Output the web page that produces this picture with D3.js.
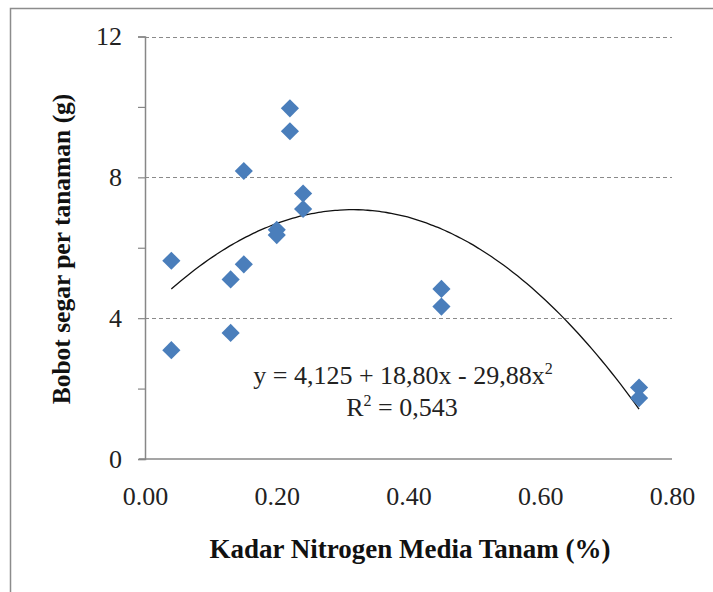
<!DOCTYPE html>
<html>
<head>
<meta charset="utf-8">
<script src="https://cdn.jsdelivr.net/npm/d3@7"></script>
<style>
  body { margin: 0; background: #fff; }
  svg { display: block; }
</style>
</head>
<body>
<svg id="chart"></svg>
<script>
// data
var nitrogen = [0.04, 0.04, 0.13, 0.13, 0.15, 0.15, 0.20, 0.20, 0.22, 0.22, 0.24, 0.24, 0.45, 0.45, 0.75, 0.75];
var bobot    = [5.63, 3.09, 5.10, 3.58, 8.18, 5.53, 6.51, 6.36, 9.96, 9.31, 7.54, 7.10, 4.83, 4.33, 2.03, 1.73];

var xTicks = [0, 0.2, 0.4, 0.6, 0.8];
var yTicks = [0, 2, 4, 6, 8, 10, 12];
var yLabels = [0, 4, 8, 12];
var yGrid = [4, 8, 12];

// polynomial trendline y = a + b x + c x^2, drawn over the data range
var trendCoef = [4.125, 18.80, -29.88];
var trendRange = [0.04, 0.75];
var eqText = ["y = 4,125 + 18,80x - 29,88x", "R", " = 0,543"];

var serif = "'Liberation Serif', 'Times New Roman', serif";
var width = 713, height = 592;
var svg = d3.select("#chart")
  .attr("width", width)
  .attr("height", height);

// outer frame
svg.append("rect")
  .attr("x", 10.5).attr("y", 8.5)
  .attr("width", 760).attr("height", 650)
  .attr("fill", "none")
  .attr("stroke", "#8c8c8c")
  .attr("stroke-width", 1.5);

var x = d3.scaleLinear().domain([0, 0.8]).range([145, 672]);
var y = d3.scaleLinear().domain([0, 12]).range([459, 36.5]);

// gridlines
svg.append("g")
  .selectAll("line")
  .data(yGrid)
  .enter()
  .append("line")
    .attr("x1", x(0)).attr("x2", x(0.8))
    .attr("y1", function(d){ return Math.round(y(d)) + 0.5; })
    .attr("y2", function(d){ return Math.round(y(d)) + 0.5; })
    .attr("stroke", "#8a8a8a")
    .attr("stroke-dasharray", "4,3");

// y axis
var yAxis = svg.append("g")
  .attr("transform", "translate(" + x(0) + ",0)")
  .call(d3.axisLeft(y)
    .tickValues(yTicks)
    .tickSize(7)
    .tickPadding(16)
    .tickFormat(function(d){ return yLabels.indexOf(d) >= 0 ? d : ""; }));

// x axis
var xAxis = svg.append("g")
  .attr("transform", "translate(0," + y(0) + ")")
  .call(d3.axisBottom(x)
    .tickValues(xTicks)
    .tickSize(0)
    .tickPadding(28)
    .tickFormat(d3.format(".2f")));
xAxis.select(".domain").attr("d", "M" + (x(0) - 6) + ",0H" + x(0.8));

[xAxis, yAxis].forEach(function(g){
  g.select(".domain").attr("stroke", "#878787").attr("stroke-width", 1.5);
  g.selectAll(".tick line").attr("stroke", "#878787").attr("stroke-width", 1.2);
  g.selectAll(".tick text")
    .attr("font-family", serif)
    .attr("font-size", 26)
    .attr("fill", "#222");
});

// trendline
var xs = d3.range(0, 101).map(function(i){
  return trendRange[0] + (trendRange[1] - trendRange[0]) * i / 100;
});
var line = d3.line()
  .x(function(d){ return x(d); })
  .y(function(d){ return y(trendCoef[0] + trendCoef[1] * d + trendCoef[2] * d * d); })
  .curve(d3.curveBasis);
svg.append("path")
  .datum(xs)
  .attr("d", line)
  .attr("fill", "none")
  .attr("stroke", "#111")
  .attr("stroke-width", 1.3);

// points
var diamond = d3.symbol().type(d3.symbolSquare).size(165);
svg.append("g")
  .selectAll("path")
  .data(nitrogen)
  .enter()
  .append("path")
    .attr("d", diamond)
    .attr("transform", function(d, i){
      return "translate(" + x(d) + "," + y(bobot[i]) + ") rotate(45)";
    })
    .attr("fill", "#4a7ebb");

// equation
var eq = svg.append("text")
  .attr("x", 403).attr("y", 384)
  .attr("text-anchor", "middle")
  .attr("font-family", serif)
  .attr("font-size", 26)
  .attr("fill", "#222");
eq.append("tspan").text(eqText[0]);
eq.append("tspan").attr("dy", -10).attr("font-size", 16).text("2");

var r2 = svg.append("text")
  .attr("x", 402).attr("y", 416)
  .attr("text-anchor", "middle")
  .attr("font-family", serif)
  .attr("font-size", 26)
  .attr("fill", "#222");
r2.append("tspan").text(eqText[1]);
r2.append("tspan").attr("dy", -10).attr("font-size", 16).text("2");
r2.append("tspan").attr("dy", 10).text(eqText[2]);

// axis titles
svg.append("text")
  .attr("x", 410).attr("y", 558)
  .attr("text-anchor", "middle")
  .attr("font-family", serif)
  .attr("font-weight", "bold")
  .attr("font-size", 27)
  .attr("fill", "#111")
  .text("Kadar Nitrogen Media Tanam (%)");

svg.append("text")
  .attr("transform", "translate(70,249) rotate(-90)")
  .attr("text-anchor", "middle")
  .attr("font-family", serif)
  .attr("font-weight", "bold")
  .attr("font-size", 25.5)
  .attr("fill", "#111")
  .text("Bobot segar per tanaman (g)");
</script>
</body>
</html>
